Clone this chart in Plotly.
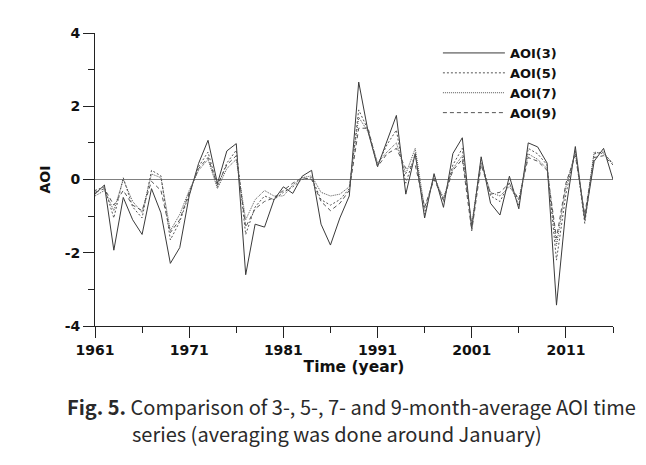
import plotly.graph_objects as go

years = list(range(1961, 2017))

aoi3 = [-0.40, -0.15, -1.93, -0.49, -1.10, -1.50, -0.25, -0.91, -2.29, -1.86,
        -0.45, 0.44, 1.07, -0.11, 0.78, 0.98, -2.60, -1.22, -1.30, -0.56,
        -0.20, -0.38, 0.09, 0.25, -1.22, -1.79, -1.05, -0.45, 2.66, 1.30,
        0.35, 1.05, 1.75, -0.40, 0.71, -1.05, 0.16, -0.76, 0.71, 1.14,
        -1.34, 0.62, -0.65, -0.97, 0.09, -0.80, 1.00, 0.89, 0.45, -3.43,
        -0.80, 0.90, -1.10, 0.50, 0.85, 0.00]

aoi5 = [-0.30, -0.20, -1.05, 0.05, -0.75, -1.05, 0.25, 0.10, -1.65, -1.15,
        -0.40, 0.35, 0.75, -0.20, 0.45, 0.80, -1.50, -0.75, -0.45, -0.55,
        -0.35, -0.20, 0.00, 0.05, -0.55, -0.70, -0.55, -0.25, 1.90, 1.35,
        0.40, 0.95, 1.35, -0.10, 0.70, -0.95, 0.10, -0.60, 0.40, 0.85,
        -1.30, 0.55, -0.45, -0.60, -0.10, -0.70, 0.85, 0.70, 0.40, -2.20,
        -0.40, 0.80, -1.20, 0.70, 0.75, 0.40]

aoi7 = [-0.45, -0.30, -0.85, 0.00, -0.60, -0.90, 0.15, 0.05, -1.40, -0.95,
        -0.30, 0.25, 0.55, -0.25, 0.30, 0.55, -1.10, -0.55, -0.30, -0.45,
        -0.45, -0.15, 0.05, 0.10, -0.35, -0.45, -0.40, -0.20, 1.70, 1.30,
        0.45, 0.75, 1.00, 0.15, 0.85, -0.80, 0.05, -0.50, 0.30, 0.65,
        -1.20, 0.45, -0.35, -0.45, -0.20, -0.55, 0.70, 0.55, 0.30, -1.80,
        -0.20, 0.75, -1.05, 0.75, 0.70, 0.45]

aoi9 = [-0.35, -0.25, -0.70, -0.30, -0.70, -0.85, -0.05, -0.30, -1.45, -1.10,
        -0.35, 0.30, 0.60, -0.15, 0.40, 0.65, -1.30, -0.80, -0.60, -0.50,
        -0.30, -0.10, 0.05, 0.00, -0.60, -0.85, -0.65, -0.30, 1.40, 1.40,
        0.35, 0.70, 0.85, 0.30, 0.40, -0.75, 0.00, -0.55, 0.25, 0.55,
        -1.40, 0.40, -0.40, -0.35, -0.10, -0.55, 0.60, 0.50, 0.25, -1.60,
        -0.10, 0.65, -0.95, 0.60, 0.65, 0.40]

x_tickvals = [1961, 1971, 1981, 1991, 2001, 2011]
x_ticktext = ["1961", "1971", "1981", "1991", "2001", "2011"]
y_tickvals = [-4, -2, 0, 2, 4]
y_ticktext = ["-4", "-2", "0", "2", "4"]

series = [
    ("AOI(3)", aoi3, "solid", "#3a3a3a"),
    ("AOI(5)", aoi5, "2px,2px", "#555555"),
    ("AOI(7)", aoi7, "1px,1px", "#555555"),
    ("AOI(9)", aoi9, "4px,3px", "#555555"),
]

fig = go.Figure()
for name, vals, dash, color in series:
    fig.add_trace(go.Scatter(x=years, y=vals, mode="lines", name="<b>" + name + "</b>",
                             line=dict(color=color, width=1, dash=dash)))

tickfont = dict(family="DejaVu Sans", size=14, color="#111111")

fig.update_layout(
    width=638, height=457,
    margin=dict(l=87, r=33, t=25, b=139),
    paper_bgcolor="white", plot_bgcolor="white",
    font=dict(family="DejaVu Sans", color="#111111"),
    showlegend=True,
    legend=dict(x=0.662, y=0.983, xanchor="left", yanchor="top",
                bgcolor="rgba(0,0,0,0)", font=dict(family="DejaVu Sans", size=13, color="#111111"),
                itemwidth=62),
    xaxis=dict(range=[1961, 2016], tickmode="array", tickvals=x_tickvals,
               ticktext=["<b>" + t + "</b>" for t in x_ticktext],
               ticks="outside", ticklen=11,
               tickcolor="#222222", showline=True, linecolor="#222222", linewidth=1,
               showgrid=False, zeroline=False, tickfont=tickfont,
               minor=dict(dtick=5, tick0=1961, ticks="outside", ticklen=6, tickcolor="#222222"),
               title=dict(text="<b>Time (year)</b>",
                          font=dict(family="DejaVu Sans", size=15.5, color="#111111"), standoff=2)),
    yaxis=dict(range=[-4, 4], tickmode="array", tickvals=y_tickvals,
               ticktext=["<b>" + t + "</b>" for t in y_ticktext],
               ticks="outside", ticklen=11,
               tickcolor="#222222", showline=True, linecolor="#222222", linewidth=1,
               showgrid=False, zeroline=True, zerolinecolor="#808080", zerolinewidth=1,
               tickfont=tickfont,
               minor=dict(dtick=1, tick0=-4, ticks="outside", ticklen=6, tickcolor="#222222"),
               title=dict(text="<b>AOI</b>", font=dict(family="DejaVu Sans", size=14, color="#111111"),
                          standoff=10)),
)

capfont = dict(family="Noto Sans CJK KR", size=20, color="#2a2a2a")
fig.add_annotation(xref="paper", yref="paper", x=-0.058, y=-0.275, xanchor="left", yanchor="middle",
                   showarrow=False, font=capfont,
                   text="<b>Fig. 5.</b> Comparison of 3-, 5-, 7- and 9-month-average AOI time")
fig.add_annotation(xref="paper", yref="paper", x=0.068, y=-0.367, xanchor="left", yanchor="middle",
                   showarrow=False, font=capfont,
                   text="series (averaging was done around January)")

fig.write_html("out.html")
